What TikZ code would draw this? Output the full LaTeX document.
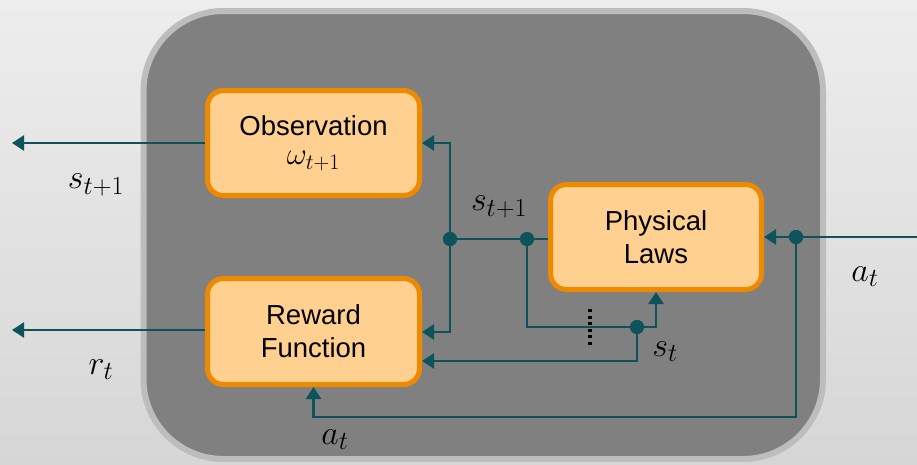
\RequirePackage{fix-cm}
\documentclass[tikz,border=0pt]{standalone}
\usepackage[no-math]{fontspec}
\setmainfont{Liberation Sans}
\usetikzlibrary{arrows.meta,calc}
\definecolor{bgtop}{HTML}{EDEDED}
\definecolor{bgbot}{HTML}{D6D6D6}
\definecolor{envfill}{HTML}{808080}
\definecolor{envdraw}{HTML}{BDBDBD}
\definecolor{boxdraw}{HTML}{EE8A00}
\definecolor{boxfill}{HTML}{FFD08F}
\definecolor{teal}{HTML}{0D535C}
\newcommand{\labsub}[3]{$#1_{\hbox{\fontsize{#3}{#3}\selectfont$#2$}}$}
\tikzset{
  blockbox/.style={draw=boxdraw, fill=boxfill, line width=5pt, rounded corners=16pt,
    align=center, font=\fontsize{27.5}{33}\selectfont, inner sep=0pt},
  wire/.style={draw=teal, line width=2.5pt},
  arr/.style={wire, -{Triangle[length=12pt,width=15pt]}},
  jdot/.style={circle, fill=teal, minimum size=14pt, inner sep=0pt},
  mlabel/.style={inner sep=0pt, font=\fontsize{34}{38}\selectfont},
}
\begin{document}
\begin{tikzpicture}[x=1pt,y=-1pt]
\useasboundingbox (0,0) rectangle (917,464);
\shade[top color=bgtop, bottom color=bgbot] (0,0) rectangle (917,464);
\draw[draw=envdraw, fill=envfill, line width=6pt, rounded corners=80pt] (143.5,11) rectangle (823,459);

% blocks
\node[blockbox, minimum width=212pt, minimum height=105pt] (obs) at (313.5,143)
  {Observation\\[-4pt]{\fontsize{31}{31}\selectfont\labsub{\omega}{t{+}1}{22}}};
\node[blockbox, minimum width=212pt, minimum height=106pt] (rew) at (313.5,331.5)
  {Reward\\Function};
\node[blockbox, minimum width=211pt, minimum height=105pt] (phys) at (656,237)
  {Physical\\Laws};

% coordinates
\coordinate (sout) at (12,143);
\coordinate (rout) at (12,330);
\coordinate (ain) at (917,237);
\coordinate (y332) at (0,332);
\coordinate (y360) at (0,361);
\coordinate (y417) at (0,417);

% junction dots
\node[jdot] (j1) at (450,239) {};
\node[jdot] (j2) at (527,239) {};
\node[jdot] (j3) at (637,327) {};
\node[jdot] (j4) at (796,237) {};

% connectors
\draw[arr] (obs.west) -- (sout);
\draw[arr] (rew.west |- rout) -- (rout);
\draw[wire] (phys.west |- j2) -- (j2.center) -- (j1.center);
\draw[arr] (j1.center) |- (obs.east);
\draw[arr] (j1.center) |- (rew.east |- y332);
\draw[wire] (j2.center) |- (j3.center);
\draw[arr] (j3.center) -| (phys.south);
\draw[arr] (j3.center) |- (rew.east |- y360);
\draw[wire] (ain) -- (j4.center);
\draw[arr] (j4.center) -- (phys.east);
\draw[arr] (j4.center) |- (rew.south |- y417) -- (rew.south);
\node[jdot] at (j1) {};
\node[jdot] at (j2) {};
\node[jdot] at (j3) {};
\node[jdot] at (j4) {};

% vertical ellipsis
\draw[black, line width=4pt, dash pattern=on 3pt off 3.5pt] (590,309) -- (590,347);

% labels
\node[mlabel] (lsout) at (96,185) {\labsub{s}{t{+}1}{26}};
\node[mlabel] (lrout) at (101,370) {\labsub{r}{t}{26}};
\node[mlabel] (lsmid) at (499,207) {\labsub{s}{t{+}1}{26}};
\node[mlabel] (lst) at (665,352) {\labsub{s}{t}{26}};
\node[mlabel] (lain) at (865,277) {\labsub{a}{t}{26}};
\node[mlabel] (labot) at (335,440) {\labsub{a}{t}{26}};
\end{tikzpicture}
\end{document}
